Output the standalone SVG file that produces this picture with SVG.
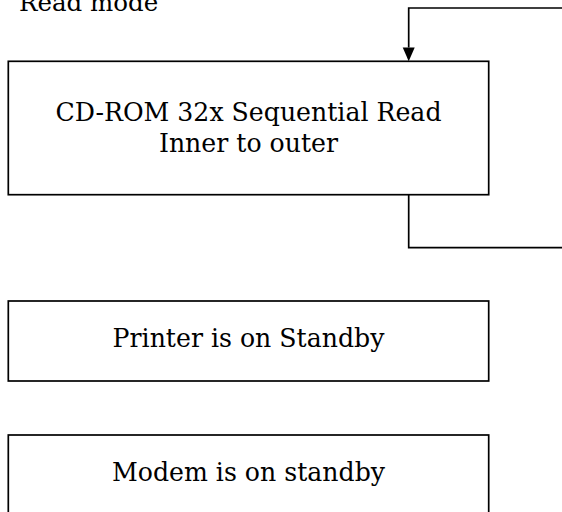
<svg xmlns="http://www.w3.org/2000/svg" width="562" height="512" viewBox="0 0 562 512">
  <style>
    .box { fill: #ffffff; stroke: #000000; stroke-width: 1.7; }
    .wire { fill: none; stroke: #000000; stroke-width: 1.7; }
    .lbl { font-family: "DejaVu Serif", "Liberation Serif", serif; font-size: 25.2px; fill: #000000; text-anchor: middle; }
    .cap { font-family: "DejaVu Serif", "Liberation Serif", serif; font-size: 24.5px; fill: #000000; }
  </style>
  <rect width="562" height="512" fill="#ffffff"/>

  <!-- heading, partly above the top edge of the sheet -->
  <text class="cap" x="19" y="11">Read mode</text>

  <g id="connectors">
    <!-- loop back into the read box from the right edge -->
    <path class="wire" d="M562,8 H408.7 V47.5"/>
    <path d="M402.7,47.5 L414.7,47.5 L408.7,61.3 Z" fill="#000000"/>
    <!-- exit from the bottom of the read box to the right edge -->
    <path class="wire" d="M408.7,194.7 V247.7 H562"/>
  </g>

  <g id="node-read">
    <rect class="box" x="8.3" y="61.3" width="480.4" height="133.4"/>
    <text class="lbl" x="248.5" y="121">CD-ROM 32x Sequential Read</text>
    <text class="lbl" x="248.5" y="152">Inner to outer</text>
  </g>

  <g id="node-printer">
    <rect class="box" x="8.3" y="301" width="480.4" height="80"/>
    <text class="lbl" x="248.5" y="347">Printer is on Standby</text>
  </g>

  <g id="node-modem">
    <rect class="box" x="8.3" y="435" width="480.4" height="90"/>
    <text class="lbl" x="248.5" y="481">Modem is on standby</text>
  </g>
</svg>
